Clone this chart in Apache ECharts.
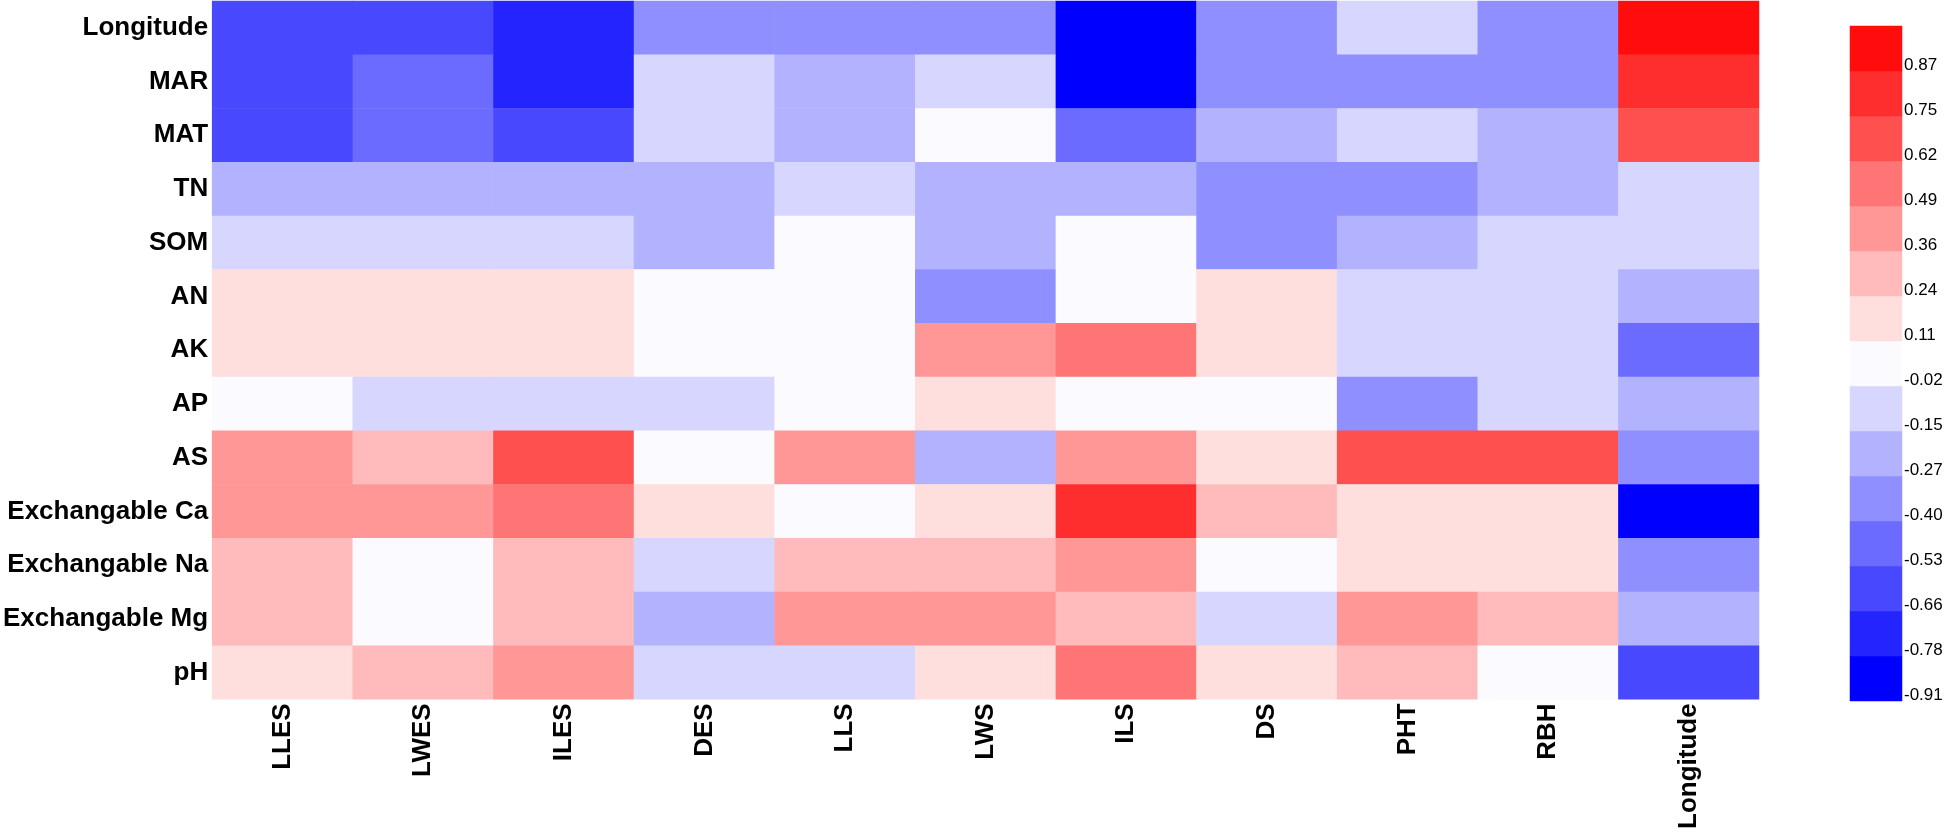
<!DOCTYPE html>
<html>
<head>
<meta charset="utf-8">
<script src="https://cdn.jsdelivr.net/npm/echarts@6/dist/echarts.min.js"></script>
<style>
  html, body { margin: 0; padding: 0; background: #fff; }
  #chart { width: 1946px; height: 832px; }
</style>
</head>
<body>
<div id="chart"></div>
<script>
// ---- data ----
const colNames = ['LLES', 'LWES', 'ILES', 'DES', 'LLS', 'LWS', 'ILS', 'DS', 'PHT', 'RBH', 'Longitude'];
const rowNames = ['Longitude', 'MAR', 'MAT', 'TN', 'SOM', 'AN', 'AK', 'AP', 'AS',
  'Exchangable Ca', 'Exchangable Na', 'Exchangable Mg', 'pH'];

const rLongitude = [-0.60, -0.62, -0.74, -0.35, -0.33, -0.36, -0.89, -0.34, -0.10, -0.35, 1.00];
const rMAR       = [-0.61, -0.47, -0.72, -0.09, -0.21, -0.08, -0.85, -0.33, -0.31, -0.34, 0.81];
const rMAT       = [-0.58, -0.45, -0.57, -0.10, -0.20, 0.03, -0.48, -0.22, -0.07, -0.19, 0.68];
const rTN        = [-0.22, -0.21, -0.20, -0.23, -0.09, -0.19, -0.21, -0.36, -0.32, -0.20, -0.06];
const rSOM       = [-0.10, -0.09, -0.08, -0.22, 0.02, -0.18, 0.04, -0.31, -0.23, -0.11, -0.07];
const rAN        = [0.15, 0.17, 0.14, 0.05, 0.01, -0.33, 0.06, 0.16, -0.12, -0.09, -0.24];
const rAK        = [0.18, 0.16, 0.13, 0.07, 0.03, 0.43, 0.54, 0.19, -0.11, -0.13, -0.45];
const rAP        = [0.04, -0.12, -0.09, -0.10, 0.02, 0.14, 0.05, 0.08, -0.35, -0.06, -0.25];
const rAS        = [0.41, 0.30, 0.70, 0.06, 0.43, -0.22, 0.40, 0.18, 0.65, 0.67, -0.38];
const rCa        = [0.44, 0.42, 0.53, 0.15, 0.01, 0.17, 0.80, 0.28, 0.13, 0.19, -0.88];
const rNa        = [0.27, 0.02, 0.29, -0.11, 0.31, 0.28, 0.39, 0.00, 0.16, 0.20, -0.34];
const rMg        = [0.30, 0.04, 0.26, -0.24, 0.40, 0.38, 0.33, -0.05, 0.41, 0.32, -0.22];
const rPH        = [0.14, 0.32, 0.45, -0.13, -0.08, 0.20, 0.57, 0.12, 0.25, 0.09, -0.64];

// colour bar: bin lower bounds (tick labels) from bottom to top, upper limit, colours
const binLabels = ['-0.91', '-0.78', '-0.66', '-0.53', '-0.40', '-0.27', '-0.15', '-0.02',
  '0.11', '0.24', '0.36', '0.49', '0.62', '0.75', '0.87'];
const binTop = 1.0;
const binColors = ['#0000FF', '#2424FF', '#4848FF', '#6B6BFF', '#8F8FFF', '#B2B2FF', '#D6D6FF', '#FAFAFF',
  '#FFDEDE', '#FFBBBB', '#FF9797', '#FF7474', '#FF5050', '#FF2E2E', '#FF0D0D'];

// ---- build ----
const matrix = [rLongitude, rMAR, rMAT, rTN, rSOM, rAN, rAK, rAP, rAS, rCa, rNa, rMg, rPH];
const heatData = [];
matrix.forEach((row, yi) => row.forEach((v, xi) => heatData.push([xi, yi, v])));

const pieces = binLabels.map((lb, i) => {
  const lo = parseFloat(lb);
  const hi = i < binLabels.length - 1 ? parseFloat(binLabels[i + 1]) : binTop + 0.01;
  return { gte: lo, lt: hi, color: binColors[i] };
});

// colour-bar blocks: one per bin (category slot, bin lower bound)
const barData = binLabels.map((lb, i) => [0, i, parseFloat(lb)]);

const FONT = '"Liberation Sans", Arial, Helvetica, sans-serif';

const chart = echarts.init(document.getElementById('chart'), null, { renderer: 'canvas' });
chart.setOption({
  animation: false,
  backgroundColor: '#ffffff',
  grid: [
    { left: 211, top: 1, width: 1548, height: 700 },
    { left: 1850, top: 26, width: 52, height: 675 }
  ],
  xAxis: [
    {
      type: 'category', data: colNames, gridIndex: 0, position: 'bottom',
      axisLine: { show: false }, axisTick: { show: false }, splitLine: { show: false },
      axisLabel: { rotate: 90, margin: 4, fontSize: 26, fontWeight: 'bold', color: '#000', fontFamily: FONT, interval: 0 }
    },
    {
      type: 'category', data: ['bar'], gridIndex: 1, show: false
    }
  ],
  yAxis: [
    {
      type: 'category', data: rowNames, gridIndex: 0, inverse: true,
      axisLine: { show: false }, axisTick: { show: false }, splitLine: { show: false },
      axisLabel: { margin: 4, fontSize: 26, fontWeight: 'bold', color: '#000', fontFamily: FONT, interval: 0 }
    },
    {
      type: 'category', data: binLabels, gridIndex: 1, position: 'right',
      axisLine: { show: false }, axisTick: { show: false },
      splitLine: { show: false }, splitArea: { show: false },
      axisLabel: {
        margin: 2, fontSize: 17, color: '#000', fontFamily: FONT, interval: 0,
        verticalAlign: 'top', lineHeight: 17, padding: [8, 0, 0, 0]
      }
    }
  ],
  visualMap: {
    type: 'piecewise', show: false, seriesIndex: [0, 1], dimension: 2,
    pieces: pieces
  },
  series: [
    {
      type: 'heatmap', xAxisIndex: 0, yAxisIndex: 0, data: heatData,
      itemStyle: { borderWidth: 0 }, emphasis: { disabled: true }
    },
    {
      type: 'heatmap', xAxisIndex: 1, yAxisIndex: 1, data: barData,
      itemStyle: { borderWidth: 0 }, emphasis: { disabled: true }
    }
  ]
});
</script>
</body>
</html>
